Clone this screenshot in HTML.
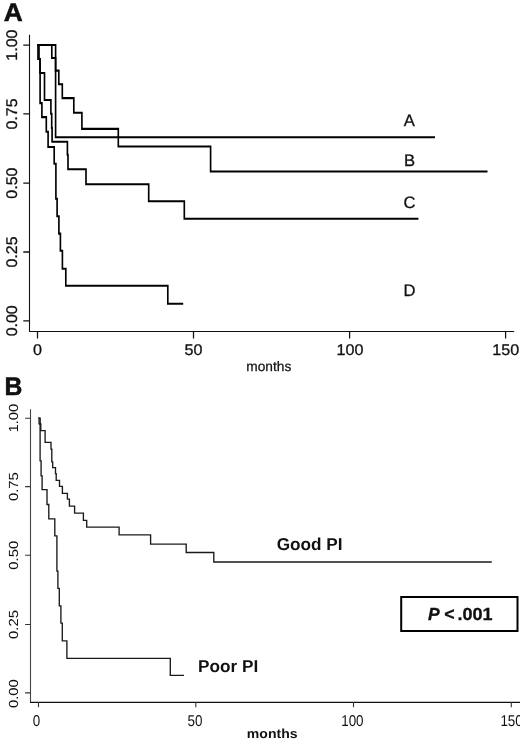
<!DOCTYPE html>
<html><head><meta charset="utf-8">
<style>
html,body{margin:0;padding:0;background:#fff;}
body{width:520px;height:740px;overflow:hidden;}
svg{display:block;will-change:transform;}
text{font-family:"Liberation Sans",sans-serif;fill:#111;text-rendering:geometricPrecision;}
</style></head><body>
<svg width="520" height="740" viewBox="0 0 520 740">
<!-- Panel A -->
<text transform="translate(3.7,20.7) scale(1.03,1)" font-size="25.5" font-weight="bold" fill="#000" stroke="#000" stroke-width="0.5">A</text>
<g stroke="#111" stroke-width="1.1" fill="none">
  <path d="M29.5,34.7 V331.5 H514.2"/>
  <path d="M23.3,45.1 H29.5 M23.3,113.9 H29.5 M23.3,183.1 H29.5 M23.3,252 H29.5 M23.3,320.8 H29.5" stroke-width="1.35"/>
  <path d="M37.5,331.5 V338.6 M193.5,331.5 V338.6 M349.6,331.5 V338.6 M505.6,331.5 V338.6" stroke-width="1.25"/>
</g>
<g font-size="15.5" text-anchor="middle" stroke="#111" stroke-width="0.3">
  <text transform="translate(16.6,45.1) rotate(-90) scale(1.03,1)">1.00</text>
  <text transform="translate(16.6,114) rotate(-90) scale(1.03,1)">0.75</text>
  <text transform="translate(16.6,183.1) rotate(-90) scale(1.03,1)">0.50</text>
  <text transform="translate(16.6,252) rotate(-90) scale(1.03,1)">0.25</text>
  <text transform="translate(16.6,320.8) rotate(-90) scale(1.03,1)">0.00</text>
  <text transform="translate(37.5,355.4) scale(1.04,1)">0</text>
  <text transform="translate(193.5,355.4) scale(1.04,1)">50</text>
  <text transform="translate(350,355.4) scale(1.04,1)">100</text>
  <text transform="translate(505.8,355.4) scale(1.04,1)">150</text>
</g>
<text x="268.8" y="371.2" font-size="13.7" text-anchor="middle" stroke="#111" stroke-width="0.25">months</text>
<g font-size="16.6" stroke="#111" stroke-width="0.3">
  <text x="403.7" y="125.8">A</text>
  <text x="404" y="165.6">B</text>
  <text x="403.4" y="208.1">C</text>
  <text x="403.6" y="296.1">D</text>
</g>
<g transform="scale(0.80488,1)" stroke="#000" stroke-width="2.05" fill="none" stroke-linejoin="miter" stroke-linecap="butt">
  <path d="M46.591,45 H64.358 V57.9 H69.079 V137.15 H540.455"/>
  <path d="M46.591,45 H69.079 V70.6 H73.055 V84.2 H77.403 V98.1 H91.691 V112.8 H101.755 V128.9 H146.979 V146.4 H261.655 V171.4 H605.682"/>
  <path d="M46.591,45 H48.455 V59 H49.697 V72.9 H55.288 V99.9 H63.239 V113.7 H64.233 V128 H64.730 V141.8 H83.739 V154.8 H84.485 V169.3 H106.848 V184.2 H184.748 V201.3 H228.979 V218.8 H519.830"/>
  <path d="M46.591,45 H47.212 V59 H49.821 V103.1 H52.058 V117.1 H57.524 V131.8 H59.761 V147 H67.339 V163.8 H69.452 V198.8 H70.942 V216.2 H73.179 V233.6 H75.042 V250.8 H77.527 V268.8 H81.752 V285.8 H208.479 V303.7 H227.612"/>
</g>
<!-- Panel B -->
<text transform="translate(4.4,394.7) scale(0.97,1)" font-size="25.5" font-weight="bold" fill="#000" stroke="#000" stroke-width="0.5">B</text>
<g stroke="#333" stroke-width="1.1" fill="none">
  <path d="M30.5,409.3 V702.3" stroke="#444"/>
  <path d="M30,702.3 H520" stroke="#111" stroke-width="1.25"/>
  <path d="M25.1,418.3 H30.5 M25.1,486.6 H30.5 M25.1,555.2 H30.5 M25.1,624.5 H30.5 M25.1,692.9 H30.5"/>
  <path d="M38.5,702.3 V707.2 M195.8,702.3 V707.2 M353.5,702.3 V707.2 M511.3,702.3 V707.2"/>
</g>
<g font-size="13.2" text-anchor="middle">
  <text transform="translate(17.8,418.1) rotate(-90) scale(1.13,1)">1.00</text>
  <text transform="translate(17.8,486.6) rotate(-90) scale(1.13,1)">0.75</text>
  <text transform="translate(17.8,555.2) rotate(-90) scale(1.13,1)">0.50</text>
  <text transform="translate(17.8,624.5) rotate(-90) scale(1.13,1)">0.25</text>
  <text transform="translate(17.8,693.6) rotate(-90) scale(1.13,1)">0.00</text>
</g>
<g font-size="15.6" text-anchor="middle">
  <text transform="translate(36.4,725.6) scale(0.86,1)">0</text>
  <text transform="translate(195,725.6) scale(0.86,1)">50</text>
  <text transform="translate(352.4,725.6) scale(0.86,1)">100</text>
  <text transform="translate(511.6,725.6) scale(0.86,1)">150</text>
</g>
<text transform="translate(272.2,737.6) scale(1.08,1)" font-size="13" font-weight="bold" text-anchor="middle" fill="#000">months</text>
<g font-size="17.2" font-weight="bold" fill="#000">
  <text transform="translate(276.7,550.1) scale(1.0,1)">Good PI</text>
  <text transform="translate(198.1,671.6) scale(1.0,1)">Poor PI</text>
</g>
<g transform="scale(1.03846,1)" stroke="#1a1a1a" stroke-width="1.3" fill="none" stroke-linejoin="miter" stroke-linecap="butt">
  <path d="M36.881,418.2 H38.711 V424 H39.289 V430.6 H43.430 V442.4 H49.111 V449.1 H49.881 V461.8 H50.748 V467.7 H53.444 V473.7 H54.119 V480.4 H57.296 V486.3 H60.089 V493.4 H64.904 V499.1 H66.830 V506.1 H71.837 V513.1 H80.311 V520.3 H83.489 V527.1 H114.689 V534.9 H145.022 V544.2 H179.304 V552.5 H205.881 V562 H473.585"/>
  <path d="M36.881,418.2 H37.652 V423.8 H38.615 V460.8 H39.578 V475.8 H40.541 V489.7 H45.259 V504.5 H46.993 V518.8 H52.770 V535.9 H54.793 V571.1 H55.756 V588.4 H57.104 V605.8 H58.644 V623.2 H59.993 V640.8 H64.422 V658.4 H163.993 V675.4 H177.185"/>
</g>
<rect x="401.2" y="597" width="116.3" height="34" fill="none" stroke="#000" stroke-width="2"/>
<text x="428.1" y="620.1" font-size="17.5" font-weight="bold" font-style="italic" fill="#000" stroke="#000" stroke-width="0.3">P</text>
<text x="444.3" y="620" font-size="17.8" font-weight="bold" fill="#000" stroke="#000" stroke-width="0.25">&lt;</text>
<text transform="translate(457.4,620) scale(1.03,1)" font-size="17.5" font-weight="bold" fill="#000" stroke="#000" stroke-width="0.25">.001</text>
</svg>
</body></html>
